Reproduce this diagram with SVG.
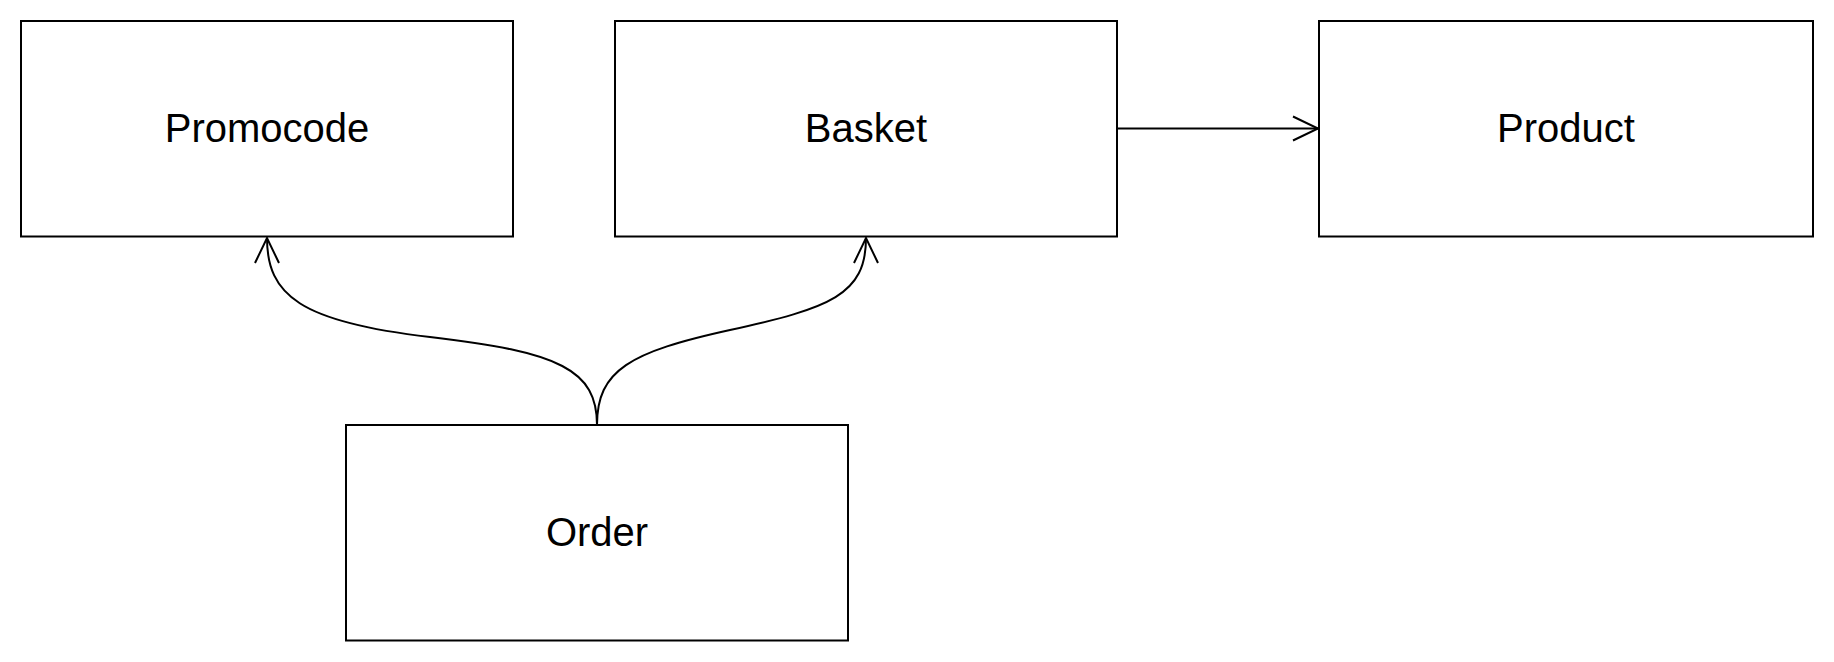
<svg xmlns="http://www.w3.org/2000/svg" width="1834" height="662" viewBox="0 0 1834 662">
<style>
.box{fill:#fff;stroke:#000;stroke-width:2}
.lbl{font-family:"Liberation Sans",Arial,sans-serif;font-size:40px;fill:#000;text-anchor:middle}
.edge{fill:none;stroke:#000;stroke-width:2}
</style>
<defs>
<marker id="open" markerUnits="userSpaceOnUse" viewBox="-30 -14 32 28" refX="0" refY="0" markerWidth="32" markerHeight="28" orient="auto" overflow="visible">
<path d="M-25,-12 L0,0 L-25,12" fill="none" stroke="#000" stroke-width="2"/>
</marker>
</defs>
<rect width="1834" height="662" fill="#fff"/>
<g id="connectors">
<path class="edge" d="M1117,128.5 L1318,128.5" marker-end="url(#open)"/>
<path class="edge" d="M597,425 C597,370 560,352 430,337 C300,322 267,295 267,238" marker-end="url(#open)"/>
<path class="edge" d="M597,425 C597,370 630,352 730,330 C830,308 866,295 866,238" marker-end="url(#open)"/>
</g>
<g id="promocode"><rect class="box" x="21" y="21" width="492" height="215.5"/><text class="lbl" x="267" y="142">Promocode</text></g>
<g id="basket"><rect class="box" x="615" y="21" width="502" height="215.5"/><text class="lbl" x="866" y="142">Basket</text></g>
<g id="product"><rect class="box" x="1319" y="21" width="494" height="215.5"/><text class="lbl" x="1566" y="142">Product</text></g>
<g id="order"><rect class="box" x="346" y="425" width="502" height="215.5"/><text class="lbl" x="597" y="546">Order</text></g>
</svg>
